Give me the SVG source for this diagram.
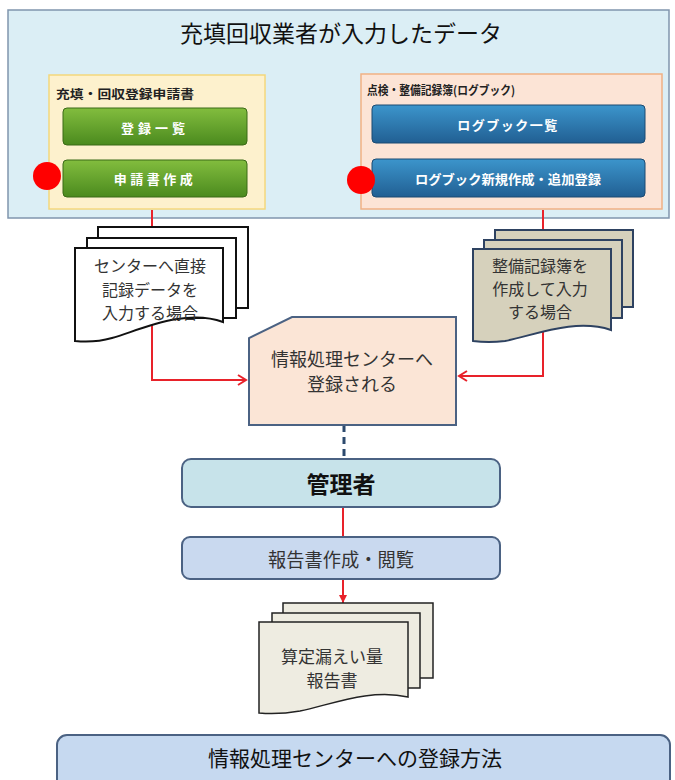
<svg xmlns="http://www.w3.org/2000/svg" width="675" height="780" viewBox="0 0 675 780">
<defs>
<linearGradient id="gGreen" x1="0" y1="0" x2="0" y2="1">
<stop offset="0" stop-color="#82bd3e"/><stop offset="1" stop-color="#4b8a1e"/>
</linearGradient>
<linearGradient id="gBlue" x1="0" y1="0" x2="0" y2="1">
<stop offset="0" stop-color="#3c95cc"/><stop offset="1" stop-color="#215f93"/>
</linearGradient>
<marker id="openArrow" markerWidth="12" markerHeight="12" refX="10" refY="6" orient="auto" markerUnits="userSpaceOnUse">
<path d="M2,1 L10,6 L2,11" fill="none" stroke="#e8222a" stroke-width="2"/>
</marker>
<marker id="solidArrow" markerWidth="10" markerHeight="10" refX="8" refY="5" orient="auto" markerUnits="userSpaceOnUse">
<path d="M0,1 L8,5 L0,9 Z" fill="#e8222a"/>
</marker>
</defs>
<style>
text{font-family:"Noto Sans CJK JP","Noto Sans",sans-serif;text-anchor:middle;dominant-baseline:central;}
.btnG{fill:url(#gGreen);stroke:#3a6a16;stroke-width:1;}
.btnB{fill:url(#gBlue);stroke:#1b4a72;stroke-width:1;}
.btnT{fill:#ffffff;font-weight:bold;font-size:13px;}
.lbl{font-weight:bold;font-size:12px;fill:#222;text-anchor:start;}
.red{stroke:#e8222a;stroke-width:2;fill:none;}
.dot{fill:#ff0000;}
.body{fill:#333;font-size:16px;}
</style>

<g id="panel">
<rect x="8" y="10" width="661" height="208" fill="#dbeef5" stroke="#8095ad" stroke-width="1.5"/>
<text x="341" y="32" font-size="23" fill="#111">充填回収業者が入力したデータ</text>
</g>

<g id="connectors">
<path class="red" d="M152,210 V380 H246" marker-end="url(#openArrow)"/>
<path class="red" d="M543,210 V376 H459" marker-end="url(#openArrow)"/>
<path d="M344,425 V459" stroke="#2d4a6e" stroke-width="3" stroke-dasharray="7,5" fill="none"/>
<path class="red" d="M343,507 V537"/>
<path class="red" d="M343,579 V603" marker-end="url(#solidArrow)"/>
</g>

<g id="left-form">
<rect x="49" y="75" width="216" height="134" fill="#fdf1cd" stroke="#f4d77c" stroke-width="1.5"/>
<text class="lbl" x="56" y="93" textLength="138" lengthAdjust="spacingAndGlyphs">充填・回収登録申請書</text>
</g>
<g id="btn-list">
<rect class="btnG" x="63" y="108" width="184" height="37" rx="4"/>
<text class="btnT" x="155" y="127" letter-spacing="4">登録一覧</text>
</g>
<g id="btn-create">
<rect class="btnG" x="63" y="160" width="184" height="37" rx="4"/>
<text class="btnT" x="155" y="178" letter-spacing="3.5">申請書作成</text>
<circle class="dot" cx="47" cy="176" r="14"/>
</g>

<g id="right-form">
<rect x="361" y="74" width="301" height="135" fill="#fce4d6" stroke="#f1b184" stroke-width="1.5"/>
<text class="lbl" x="367" y="89" textLength="148" lengthAdjust="spacingAndGlyphs">点検・整備記録簿(ログブック)</text>
</g>
<g id="btn-loglist">
<rect class="btnB" x="372" y="105" width="273" height="38" rx="4"/>
<text class="btnT" x="508" y="124" font-size="12" letter-spacing="1.5">ログブック一覧</text>
</g>
<g id="btn-logcreate">
<rect class="btnB" x="372" y="159" width="273" height="38" rx="4"/>
<text class="btnT" x="508" y="178" font-size="12" textLength="186" lengthAdjust="spacingAndGlyphs">ログブック新規作成・追加登録</text>
<circle class="dot" cx="361" cy="180" r="14"/>
</g>

<g id="doc-direct" fill="#ffffff" stroke="#111" stroke-width="2">
<path d="M98,227 H248 V308 H98 Z"/>
<path d="M87,238 H236 V318 H87 Z"/>
<path d="M75,248 H223 V322 C185,308 140,330 112,338 C98,342 85,342 75,341 Z"/>
<text class="body" x="150" y="265" stroke="none" fill="#333">センターへ直接</text>
<text class="body" x="150" y="289" stroke="none" fill="#333">記録データを</text>
<text class="body" x="150" y="312" stroke="none" fill="#333">入力する場合</text>
</g>

<g id="doc-logbook" fill="#d6d1bc" stroke="#2e4261" stroke-width="2">
<path d="M495,230 H633 V307 H495 Z"/>
<path d="M484,240 H622 V318 H484 Z"/>
<path d="M473,249 H611 V330 C575,318 535,335 505,341 C490,343 480,342 473,341 Z"/>
<text class="body" x="540" y="265" stroke="none" fill="#333">整備記録簿を</text>
<text class="body" x="540" y="288" stroke="none" fill="#333">作成して入力</text>
<text class="body" x="540" y="311" stroke="none" fill="#333">する場合</text>
</g>

<g id="center-register">
<path d="M292,317 H456 V425 H249 V338 Z" fill="#fbe5d6" stroke="#4b6283" stroke-width="2"/>
<text x="352" y="358" font-size="18" fill="#333">情報処理センターへ</text>
<text x="352" y="383" font-size="18" fill="#333">登録される</text>
</g>

<g id="admin">
<rect x="182" y="459" width="318" height="48" rx="9" fill="#c7e3ea" stroke="#4b6283" stroke-width="2"/>
<text x="341" y="483" font-size="23" font-weight="bold" fill="#111">管理者</text>
</g>

<g id="report">
<rect x="182" y="537" width="318" height="42" rx="8" fill="#c9d9ef" stroke="#4b6283" stroke-width="2"/>
<text x="341" y="558" font-size="19" fill="#333" textLength="146" lengthAdjust="spacingAndGlyphs">報告書作成・閲覧</text>
</g>

<g id="doc-report" fill="#eeece1" stroke="#222" stroke-width="1.5">
<path d="M283,603 H433 V678 H283 Z"/>
<path d="M272,613 H420 V688 H272 Z"/>
<path d="M259,622 H408 V697 C370,688 330,705 300,711 C283,714 270,714 259,713 Z"/>
<text x="332" y="655" font-size="17" stroke="none" fill="#333">算定漏えい量</text>
<text x="332" y="679" font-size="17" stroke="none" fill="#333">報告書</text>
</g>

<g id="footer">
<rect x="57" y="735" width="613" height="60" rx="10" fill="#c6d9f0" stroke="#4b6283" stroke-width="2"/>
<text x="355" y="757" font-size="21" fill="#111">情報処理センターへの登録方法</text>
</g>
</svg>
